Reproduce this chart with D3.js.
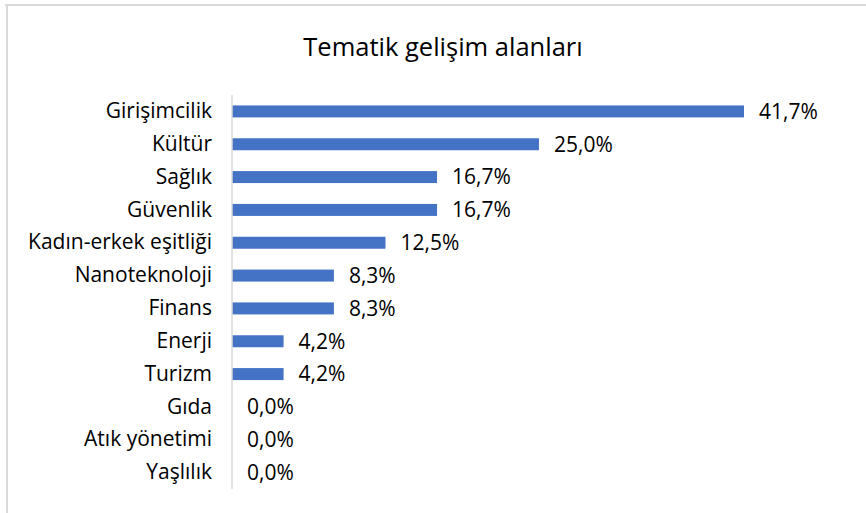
<!DOCTYPE html>
<html>
<head>
<meta charset="utf-8">
<title>Tematik gelişim alanları</title>
<script src="https://cdnjs.cloudflare.com/ajax/libs/d3/7.8.5/d3.min.js"></script>
<style>
  body { margin: 0; background: #fff; }
  text { font-family: "Open Sans", "Noto Sans", sans-serif; fill: #000; }
</style>
</head>
<body>
<div id="chart"></div>
<script>
// data
var categories = ["Girişimcilik", "Kültür", "Sağlık", "Güvenlik", "Kadın-erkek eşitliği",
                  "Nanoteknoloji", "Finans", "Enerji", "Turizm", "Gıda", "Atık yönetimi", "Yaşlılık"];
var shares = [0.417, 0.250, 0.167, 0.167, 0.125, 0.083, 0.083, 0.042, 0.042, 0, 0, 0];
var shareLabels = ["41,7%", "25,0%", "16,7%", "16,7%", "12,5%", "8,3%", "8,3%", "4,2%", "4,2%", "0,0%", "0,0%", "0,0%"];
var title = "Tematik gelişim alanları";

var width = 866, height = 513;
var svg = d3.select("#chart").append("svg")
    .attr("width", width).attr("height", height);

// chart frame (only top and left edges show in the crop)
svg.append("line").attr("x1", 5).attr("y1", 5).attr("x2", width).attr("y2", 5)
    .style("stroke", "#d9d9d9").style("stroke-width", 2);
svg.append("line").attr("x1", 7).attr("y1", 5).attr("x2", 7).attr("y2", height)
    .style("stroke", "#d9d9d9").style("stroke-width", 2);

svg.append("text")
    .attr("x", 443).attr("y", 56)
    .attr("text-anchor", "middle")
    .style("font-size", "25.5px")
    .text(title);

var x = d3.scaleLinear().domain([0, 0.417]).range([232, 744]);
var y = d3.scaleBand().domain(categories).range([95, 489])
    .paddingInner(0.635).paddingOuter(0.3175);

svg.selectAll("rect.bar")
    .data(categories)
    .enter().append("rect")
    .attr("class", "bar")
    .attr("x", x(0))
    .attr("y", function(d) { return y(d); })
    .attr("width", function(d, i) { return x(shares[i]) - x(0); })
    .attr("height", y.bandwidth())
    .style("fill", "#4472c4");

// category axis
var yAxis = svg.append("g")
    .attr("transform", "translate(" + x(0) + ",0)")
    .call(d3.axisLeft(y).tickSize(0).tickPadding(20));
yAxis.select(".domain").remove();
yAxis.selectAll("text")
    .style("font-size", "21px")
    .style("font-family", "'Open Sans', 'Noto Sans', sans-serif")
    .attr("fill", "#000");

svg.append("line")
    .attr("x1", x(0)).attr("x2", x(0))
    .attr("y1", 95).attr("y2", 489)
    .style("stroke", "#d9d9d9").style("stroke-width", 1.5);

// value labels
svg.selectAll("text.val")
    .data(categories)
    .enter().append("text")
    .attr("class", "val")
    .attr("x", function(d, i) { return x(shares[i]) + 15; })
    .attr("y", function(d) { return y(d) + y.bandwidth() / 2; })
    .attr("dy", "0.35em")
    .style("font-size", "21px")
    .text(function(d, i) { return shareLabels[i]; });
</script>
</body>
</html>
